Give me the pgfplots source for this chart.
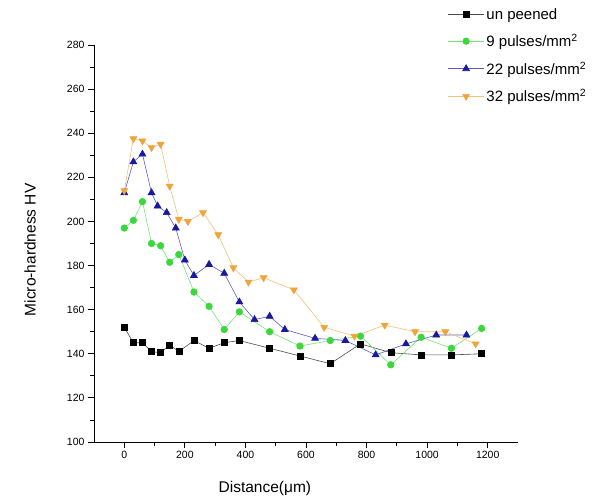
\documentclass[border=0pt]{standalone}
\usepackage{pgfplots}
\pgfplotsset{compat=1.18}
\usepackage{fontspec}
\setmainfont{Liberation Sans}

\definecolor{cgreen}{RGB}{60,215,60}
\definecolor{cblue}{RGB}{25,25,160}
\definecolor{corange}{RGB}{240,165,60}

\begin{document}
\begin{tikzpicture}
\useasboundingbox (-94pt,-59pt) rectangle (508pt,442pt);
\begin{axis}[
  scale only axis,
  width=424pt, height=397pt,
  xmin=-100, xmax=1300,
  ymin=100, ymax=280,
  axis x line*=bottom,
  axis y line*=left,
  xtick={0,200,...,1200},
  ytick={100,120,...,280},
  minor x tick num=1,
  minor y tick num=1,
  tick align=outside,
  major tick length=6pt,
  minor tick length=3.5pt,
  tick style={black, line width=0.8pt},
  axis line style={black, line width=0.9pt},
  ticklabel style={font=\fontsize{10.5}{12}\selectfont},
  /pgf/number format/assume math mode=true,
  /pgf/number format/1000 sep={},
  xlabel={Distance(μm)},
  ylabel={Micro-hardness HV},
  label style={font=\fontsize{15.5}{18}\selectfont},
  x label style={at={(axis description cs:0.403,-0.116)}, anchor=center},
  y label style={at={(axis description cs:-0.151,0.484)}, anchor=center},
  clip=false,
  legend style={at={(axis description cs:0.834,1.098)}, anchor=north west,
    draw=none, fill=none, font=\fontsize{15}{18}\selectfont,
    row sep=9.5pt, inner sep=0pt},
  legend cell align=left,
  legend image code/.code={
    \draw[mark repeat=2, mark phase=2, #1]
      plot coordinates {(0pt,0pt) (18pt,0pt) (36pt,0pt)};},
]
\addplot[black!70, line width=0.6pt, mark=square*, mark size=3pt,
  mark options={black, solid}] coordinates {
  (0,152) (30,145) (60,145) (90,141) (120,140.5) (150,144) (180,141)
  (230,146) (280,142.5) (330,145) (380,146) (480,142.5) (580,139)
  (680,135.5) (780,144.5) (880,140.5) (980,139.5) (1080,139.5) (1180,140)
};
\addlegendentry{un peened}
\addplot[cgreen!70, line width=0.6pt, mark=*, mark size=3.3pt,
  mark options={cgreen, solid}] coordinates {
  (0,197) (30,200.5) (60,209) (90,190) (120,189) (150,181.5) (180,185)
  (230,168) (280,161.5) (330,151) (380,159) (480,150) (580,143.5)
  (680,146) (780,148) (880,135) (980,147.5) (1080,142.5) (1180,151.5)
};
\addlegendentry{9 pulses/mm\textsuperscript{2}}
\addplot[cblue!70, line width=0.6pt, mark=triangle*, mark size=4pt,
  mark options={cblue, solid}] coordinates {
  (0,213) (30,227) (60,230.5) (90,213) (110,207) (140,204) (170,197)
  (200,182.5) (230,175.5) (280,180.5) (330,176.5) (380,163.5) (430,155.5)
  (480,157) (530,151) (630,147) (730,146) (830,139.5) (930,144.5)
  (1030,148.5) (1130,148.5)
};
\addlegendentry{22 pulses/mm\textsuperscript{2}}
\addplot[corange!70, line width=0.6pt, mark=triangle*, mark size=4pt,
  mark options={corange, solid, rotate=180}] coordinates {
  (0,214) (30,237.5) (60,236.5) (90,233.5) (120,235) (150,216) (180,201)
  (210,200) (260,204) (310,194) (360,179) (410,172.5) (460,174.5)
  (560,169) (660,152) (760,148) (860,153) (960,150) (1060,150) (1160,144.5)
};
\addlegendentry{32 pulses/mm\textsuperscript{2}}
\end{axis}
\end{tikzpicture}
\end{document}
